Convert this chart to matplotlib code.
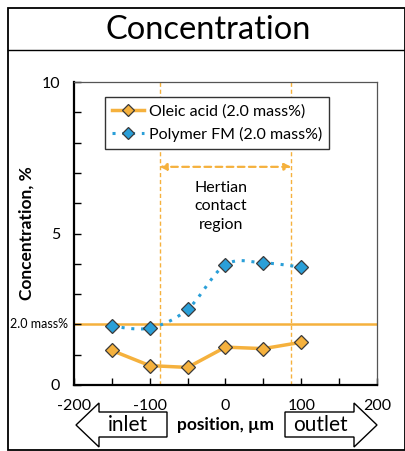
import matplotlib.pyplot as plt
import matplotlib.transforms as mtransforms
from matplotlib.patches import Polygon, Rectangle
from matplotlib.lines import Line2D
import numpy as np

plt.rcParams['font.family'] = ['Lato', 'DejaVu Sans']
plt.rcParams['axes.unicode_minus'] = False

# measured concentrations along the contact
position_um = [-150, -100, -50, 0, 50, 100]
oleic_acid = [1.14, 0.64, 0.58, 1.25, 1.20, 1.41]
polymer_fm = [1.94, 1.88, 2.50, 3.97, 4.03, 3.89]

series_labels = ['Oleic acid (2.0 mass%)', 'Polymer FM (2.0 mass%)']
added_level = 2.0
hertz_edges = [-87, 87]
x_ticks = [-200, -100, 0, 100, 200]
y_ticks = [0, 5, 10]

orange = '#F5B13D'
blue = '#2A9FD8'
edge = '#3A3A3A'


def smooth_curve(x, y, steps=20):
   #Catmull-Rom style smoothing of a polyline, like a spreadsheet "smoothed line"
   x = np.asarray(x, dtype=float)
   y = np.asarray(y, dtype=float)
   px = np.concatenate([[x[0]], x, [x[-1]]])
   py = np.concatenate([[y[0]], y, [y[-1]]])
   out_x, out_y = [], []
   t = np.linspace(0, 1, steps)
   for i in range(1, len(px) - 2):
      p0, p1, p2, p3 = px[i-1], px[i], px[i+1], px[i+2]
      q0, q1, q2, q3 = py[i-1], py[i], py[i+1], py[i+2]
      c1x, c1y = p1 + (p2 - p0)/6, q1 + (q2 - q0)/6
      c2x, c2y = p2 - (p3 - p1)/6, q2 - (q3 - q1)/6
      bx = (1-t)**3*p1 + 3*(1-t)**2*t*c1x + 3*(1-t)*t**2*c2x + t**3*p2
      by = (1-t)**3*q1 + 3*(1-t)**2*t*c1y + 3*(1-t)*t**2*c2y + t**3*q2
      out_x.extend(bx)
      out_y.extend(by)
   return out_x, out_y


W, H = 406, 451
fig = plt.figure(figsize=(W/100, H/100), dpi=100)
# pixel coordinates measured from the top-left corner
px = mtransforms.Affine2D().scale(1/W, -1/H).translate(0, 1) + fig.transFigure

#Outer frame and title band
fig.patches.append(Rectangle((8, 8), 397, 442, transform=px, fill=False,
                             edgecolor='black', linewidth=1.3))
fig.lines.append(Line2D([8, 405], [50, 50], transform=px, color='black', linewidth=1.0))
fig.text(208, 30, 'Concentration', transform=px, ha='center', va='center', fontsize=23.5)

ax = fig.add_axes([74/W, 1 - 385/H, 303/W, 303/H])
ax.set_xlim(-200, 200)
ax.set_ylim(0, 10)

for side in ['top', 'right']:
   ax.spines[side].set_color('#555555')
   ax.spines[side].set_linewidth(0.9)
for side in ['left', 'bottom']:
   ax.spines[side].set_color('black')
   ax.spines[side].set_linewidth(1.6)

ax.set_xticks(x_ticks)
ax.set_xticks(np.arange(-200, 201, 50), minor=True)
ax.set_yticks(y_ticks)
ax.set_yticks(np.arange(0, 11, 1), minor=True)
ax.tick_params(which='both', direction='in', length=5, width=1.0)
ax.tick_params(which='major', labelsize=11.5)
ax.tick_params(axis='x', pad=10)
ax.tick_params(axis='y', pad=10)

#Reference level and Hertzian contact region
ax.axhline(added_level, color=orange, linewidth=1.8, zorder=1)
for xe in hertz_edges:
   ax.axvline(xe, color=orange, linewidth=1.0, linestyle=(0, (3, 2)), zorder=1)
ax.annotate('', xy=(hertz_edges[0], 7.2), xytext=(hertz_edges[1], 7.2),
            arrowprops=dict(arrowstyle='<|-|>', color=orange, linewidth=1.6,
                            linestyle=(0, (3, 2)), mutation_scale=10, shrinkA=0, shrinkB=0))
ax.text(-6, 5.9, 'Hertian\ncontact\nregion', ha='center', va='center', fontsize=11.5,
        linespacing=1.4)
ax.text(-0.02, added_level, '2.0 mass%', transform=ax.get_yaxis_transform(),
        ha='right', va='center', fontsize=9)

#Concentration profiles
ax.plot(position_um, oleic_acid, color=orange, linewidth=2.5, zorder=3)
sx, sy = smooth_curve(position_um, polymer_fm)
ax.plot(sx, sy, color=blue, linewidth=2.2, linestyle=(0, (1, 2.2)), zorder=3)
ax.plot(position_um, oleic_acid, linestyle='none', marker='D', markersize=7.5,
        markerfacecolor=orange, markeredgecolor=edge, markeredgewidth=0.9, zorder=4)
ax.plot(position_um, polymer_fm, linestyle='none', marker='D', markersize=7.5,
        markerfacecolor=blue, markeredgecolor=edge, markeredgewidth=0.9, zorder=4)

handles = [
   Line2D([], [], color=orange, linewidth=2.5, marker='D', markersize=6,
          markerfacecolor=orange, markeredgecolor=edge, markeredgewidth=0.9),
   Line2D([], [], color=blue, linewidth=2.2, linestyle=(0, (1, 2.2)), marker='D',
          markersize=6, markerfacecolor=blue, markeredgecolor=edge, markeredgewidth=0.9),
]
leg = ax.legend(handles, series_labels, loc='upper left', bbox_to_anchor=(0.102, 0.95),
                fontsize=11.5, frameon=True, fancybox=False, edgecolor='#333333',
                framealpha=1, borderpad=0.45, handlelength=2.0, handletextpad=0.3,
                labelspacing=0.5, borderaxespad=0)
leg.get_frame().set_linewidth(1.0)

ax.set_ylabel('Concentration, %', fontsize=12.5, fontweight='bold')
ax.yaxis.set_label_coords(-0.13, 0.5)
fig.text(226, 425, 'position, µm', transform=px, ha='center', va='center',
         fontsize=12.5, fontweight='bold')

#Flow direction arrows
inlet = [(76, 425), (99, 403), (99, 412), (167, 412), (167, 437), (99, 437), (99, 447)]
outlet = [(377, 425), (354, 403), (354, 412), (285, 412), (285, 437), (354, 437), (354, 447)]
for pts in (inlet, outlet):
   fig.patches.append(Polygon(pts, closed=True, transform=px, facecolor='white',
                              edgecolor='black', linewidth=1.0, zorder=5))
fig.text(128, 425, 'inlet', transform=px, ha='center', va='center', fontsize=15, zorder=6)
fig.text(320, 425, 'outlet', transform=px, ha='center', va='center', fontsize=15, zorder=6)

fig.savefig('out.png', dpi=100)
